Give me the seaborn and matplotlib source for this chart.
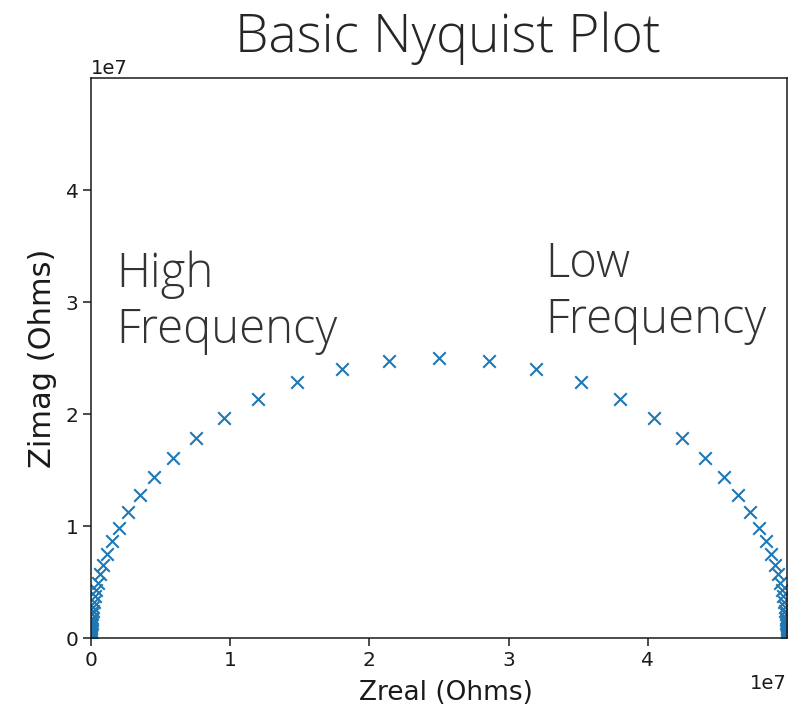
import matplotlib
matplotlib.use("Agg")
import matplotlib.pyplot as plt
import seaborn as sns
import pandas as pd

# Impedance values (units of 1e7 Ohms)
zreal_e7 = [
    0.00005, 0.0000667, 0.0000889, 0.000119, 0.000158, 0.000211, 0.000281, 0.000375,
    0.0005, 0.000667, 0.000889, 0.001185, 0.001581, 0.002108, 0.00281, 0.003747,
    0.004995, 0.006659, 0.008876, 0.01183, 0.01576, 0.021, 0.02796, 0.03722,
    0.0495, 0.0658, 0.0874, 0.116, 0.153, 0.202, 0.266, 0.349,
    0.455, 0.588, 0.755, 0.958, 1.201, 1.483, 1.80, 2.143,
    2.50,
    2.857, 3.20, 3.517, 3.799, 4.042, 4.245, 4.412, 4.545,
    4.651, 4.734, 4.798, 4.847, 4.884, 4.9126, 4.9342, 4.9505,
    4.9628, 4.972, 4.979, 4.9842, 4.9882, 4.9911, 4.9933, 4.9950,
    4.99625, 4.9972, 4.9979, 4.9984, 4.99881, 4.99911, 4.99933, 4.9995,
    4.99962, 4.99972, 4.99979, 4.99984, 4.99988, 4.99991, 4.99993, 4.99995,
]
zimag_e7 = [
    0.0158, 0.0183, 0.0211, 0.0243, 0.0281, 0.0325, 0.0375, 0.0433,
    0.050, 0.0577, 0.0667, 0.077, 0.0889, 0.1026, 0.1185, 0.1368,
    0.158, 0.1823, 0.2105, 0.2429, 0.2803, 0.3233, 0.3729, 0.4298,
    0.495, 0.570, 0.655, 0.752, 0.862, 0.985, 1.123, 1.274,
    1.437, 1.611, 1.790, 1.968, 2.136, 2.284, 2.400, 2.474,
    2.500,
    2.474, 2.400, 2.284, 2.136, 1.968, 1.790, 1.611, 1.437,
    1.274, 1.123, 0.985, 0.862, 0.752, 0.655, 0.570, 0.495,
    0.4298, 0.3729, 0.3233, 0.2803, 0.2429, 0.2105, 0.1823, 0.158,
    0.1368, 0.1185, 0.1026, 0.0889, 0.077, 0.0667, 0.0577, 0.050,
    0.0433, 0.0375, 0.0325, 0.0281, 0.0243, 0.0211, 0.0183, 0.0158,
]
x_ticks = [0, 1, 2, 3, 4]
y_ticks = [0, 1, 2, 3, 4]

df = pd.DataFrame({
    "Zreal": [v * 1e7 for v in zreal_e7],
    "Zimag": [v * 1e7 for v in zimag_e7],
})

fig = plt.figure(figsize=(8.02, 7.09), dpi=100)
ax = fig.add_axes([91 / 802, 1 - 638 / 709, (787 - 91) / 802, (638 - 78) / 709])

sns.scatterplot(data=df, x="Zreal", y="Zimag", marker="x", s=81,
                linewidth=1.5, color="#1f77b4", ax=ax, legend=False)

ax.set_xlim(0, 5e7)
ax.set_ylim(0, 5e7)
ax.set_xticks([t * 1e7 for t in x_ticks])
ax.set_yticks([t * 1e7 for t in y_ticks])
ax.tick_params(labelsize=14.5, length=5.5, width=1.1, colors="#1a1a1a")
for s in ax.spines.values():
    s.set_linewidth(1.1)
    s.set_color("#1a1a1a")
ax.xaxis.get_offset_text().set_fontsize(14)
ax.yaxis.get_offset_text().set_fontsize(14)

ax.set_xlabel("Zreal (Ohms)", fontsize=19, labelpad=2, color="#1a1a1a")
ax.set_ylabel("Zimag (Ohms)", fontsize=22, labelpad=6, color="#1a1a1a")
ax.xaxis.set_label_coords(0.51, -0.075)

fig.text(0.559, 1 - 52 / 709, "Basic Nyquist Plot", family="Open Sans",
         fontweight="light", fontsize=38.5, color="#262626", ha="center", va="baseline")
ax.text(116 / 802, 1 - 343 / 709, "High\nFrequency", transform=fig.transFigure,
        family="Open Sans", fontweight="light", fontsize=34, color="#333333",
        ha="left", va="baseline", linespacing=1.2)
ax.text(545 / 802, 1 - 333 / 709, "Low\nFrequency", transform=fig.transFigure,
        family="Open Sans", fontweight="light", fontsize=34, color="#333333",
        ha="left", va="baseline", linespacing=1.2)

fig.savefig("out.png", dpi=100)
